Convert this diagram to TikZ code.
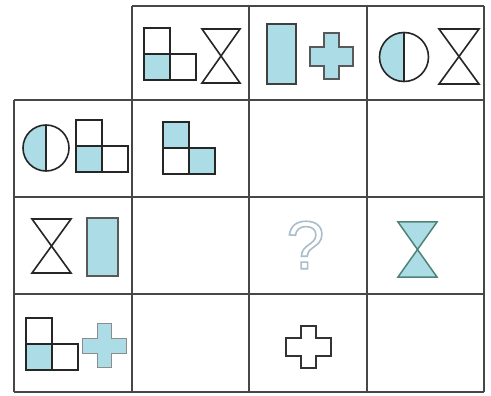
\documentclass[tikz,border=0pt]{standalone}
\usepackage{fontspec}
\newfontfamily\qfont{Liberation Sans}
\definecolor{lb}{HTML}{ACDCE6}
\definecolor{qgray}{HTML}{A9BECA}
\definecolor{hgreen}{HTML}{4E8476}

\begin{document}
\begin{tikzpicture}[x=1pt,y=-1pt,line join=miter,
  grid/.style={line width=1.8pt,black!72},
  shp/.style={line width=1.6pt,black!85},
  crs/.style={line width=1pt,black!55}]
\useasboundingbox (0,0) rectangle (491,396);
\fill[white] (0,0) rectangle (491,396);
% table
\foreach \x in {132,249,367,484} \draw[grid] (\x,6)--(\x,392);
\draw[grid] (14,100)--(14,392);
\draw[grid] (132,6)--(484,6);
\foreach \y in {100,197,294,392} \draw[grid] (14,\y)--(484,\y);
% top row
\fill[lb] (144,54) rectangle (170,80);
\draw[shp] (144,28)--(170,28)--(170,80)--(144,80)--cycle (144,54)--(196,54)--(196,80)--(170,80);
\draw[shp] (202,29)--(240,29)--(202,83)--(240,83)--cycle;
\filldraw[lb,draw=black!75,line width=1.3pt] (267,24) rectangle (296,84);
\filldraw[lb,draw=black!65,line width=1.2pt] (324,33)--(339,33)--(339,47)--(353,47)--(353,66)--(339,66)--(339,79)--(324,79)--(324,66)--(310,66)--(310,47)--(324,47)--cycle;
\begin{scope}
\clip (378,30) rectangle (404,84);
\fill[lb] (404,57) circle[radius=24.5];
\end{scope}
\draw[shp] (404,57) circle[radius=24.5] (404,32.5)--(404,81.5);
\draw[shp] (439,29)--(479,29)--(439,84)--(479,84)--cycle;
% second row
\begin{scope}
\clip (20,120) rectangle (46,176);
\fill[lb] (46,148) circle[radius=23];
\end{scope}
\draw[shp] (46,148) circle[radius=23] (46,125)--(46,171);
\fill[lb] (76,146) rectangle (102,172);
\draw[shp] (76,120)--(102,120)--(102,172)--(76,172)--cycle (76,146)--(128,146)--(128,172)--(102,172);
\fill[lb] (163,122) rectangle (189,148);
\fill[lb] (189,148) rectangle (215,174);
\draw[shp] (163,122)--(189,122)--(189,174)--(163,174)--cycle (163,148)--(215,148)--(215,174)--(189,174);
% third row
\draw[shp] (32,219)--(71,219)--(32,273)--(71,273)--cycle;
\filldraw[lb,draw=black!65,line width=1.2pt] (87,218) rectangle (118,276);
\node[inner sep=0pt,text=qgray,font=\qfont\fontsize{68}{68}\selectfont] (qm) at (305.5,245) {\special{pdf:code 1 Tr 1.6 w}?\special{pdf:code 0 Tr}};
\filldraw[lb,draw=hgreen,line width=1.5pt] (398,222)--(437,222)--(398,277)--(437,277)--cycle;
% bottom row
\fill[lb] (26,344) rectangle (52,370);
\draw[shp] (26,318)--(52,318)--(52,370)--(26,370)--cycle (26,344)--(78,344)--(78,370)--(52,370);
\filldraw[lb,draw=black!45,line width=0.9pt] (97,323)--(111,323)--(111,338)--(126,338)--(126,353)--(111,353)--(111,367)--(97,367)--(97,353)--(82,353)--(82,338)--(97,338)--cycle;
\draw[line width=1.3pt,black!80] (301,326)--(316,326)--(316,338)--(331,338)--(331,356)--(316,356)--(316,368)--(301,368)--(301,356)--(286,356)--(286,338)--(301,338)--cycle;
\end{tikzpicture}
\end{document}
